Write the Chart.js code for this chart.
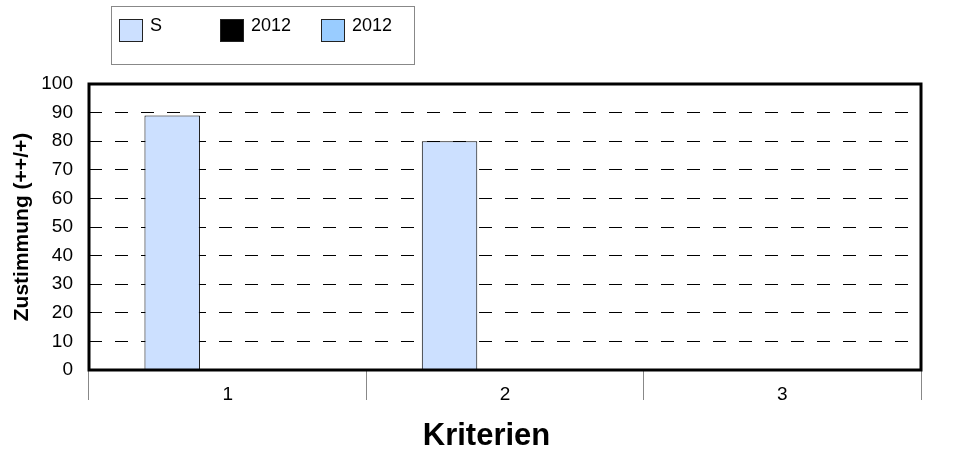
<!DOCTYPE html>
<html>
<head>
<meta charset="utf-8">
<script src="https://cdn.jsdelivr.net/npm/chart.js@4/dist/chart.umd.min.js"></script>
<style>
  html, body { margin: 0; padding: 0; background: #fff; }
  #wrap { width: 973px; height: 457px; position: relative; }
</style>
</head>
<body>
<div id="wrap"><canvas id="mycanvas"></canvas></div>
<script>
// chart data
var categories = ['1', '2', '3'];
var seriesNames = ['S', '2012', '2012'];
var valuesS = [89, 80, null];
var values2012a = [null, null, null];
var values2012b = [null, null, null];
var seriesColors = ['#cce0ff', '#000000', '#99ccff'];
var xTitle = 'Kriterien';
var yTitle = 'Zustimmung (++/+)';

Chart.defaults.font.family = '"Liberation Sans", Arial, sans-serif';
Chart.defaults.color = '#000';

// thick frame round the plot area + x title centred on the page
var framePlugin = {
    id: 'frame',
    afterDatasetsDraw: function(chart) {
        var a = chart.chartArea;
        var ctx = chart.ctx;
        ctx.save();
        ctx.strokeStyle = '#000';
        ctx.lineWidth = 3;
        ctx.strokeRect(a.left, a.top, a.right - a.left, a.bottom - a.top);
        ctx.font = 'bold 31px "Liberation Sans", Arial, sans-serif';
        ctx.fillStyle = '#000';
        ctx.textAlign = 'center';
        ctx.textBaseline = 'alphabetic';
        ctx.fillText(xTitle, chart.width / 2, 445);
        ctx.restore();
    }
};

// legend box at top-left, built from the datasets
var legendPlugin = {
    id: 'boxLegend',
    afterDraw: function(chart) {
        var ctx = chart.ctx;
        ctx.save();
        ctx.strokeStyle = '#888';
        ctx.lineWidth = 1;
        ctx.strokeRect(111.5, 6.5, 303, 58);
        ctx.font = '18px "Liberation Sans", Arial, sans-serif';
        ctx.textBaseline = 'alphabetic';
        ctx.textAlign = 'left';
        chart.data.datasets.forEach(function(ds, i) {
            var x = 119 + i * 101;
            ctx.fillStyle = ds.backgroundColor;
            ctx.fillRect(x, 19, 23, 22);
            ctx.strokeStyle = '#222';
            ctx.strokeRect(x + 0.5, 19.5, 23, 22);
            ctx.fillStyle = '#000';
            ctx.fillText(ds.label, x + 31, 31);
        });
        ctx.restore();
    }
};

var chartdata = {
    labels: categories,
    datasets: [
        { label: seriesNames[0], data: valuesS, backgroundColor: seriesColors[0], borderColor: '#000', borderWidth: 1 },
        { label: seriesNames[1], data: values2012a, backgroundColor: seriesColors[1], borderColor: '#000', borderWidth: 1 },
        { label: seriesNames[2], data: values2012b, backgroundColor: seriesColors[2], borderColor: '#000', borderWidth: 1 }
    ]
};

var ctx = document.getElementById('mycanvas');
var BarGraph = new Chart(ctx, {
    type: 'bar',
    data: chartdata,
    plugins: [framePlugin, legendPlugin],
    options: {
        responsive: true,
        maintainAspectRatio: false,
        animation: false,
        categoryPercentage: 0.6,
        barPercentage: 1.0,
        layout: { padding: { left: 0, top: 84, right: 52, bottom: 0 } },
        plugins: {
            legend: { display: false },
            tooltip: { enabled: false }
        },
        scales: {
            x: {
                offset: true,
                grid: { offset: true, drawOnChartArea: false, drawTicks: true, tickLength: 30, color: '#888', lineWidth: 1 },
                border: { display: false },
                ticks: { padding: -17, font: { size: 19 }, color: '#000' },
                afterFit: function(scale) { scale.height = 87; }
            },
            y: {
                min: 0,
                max: 100,
                ticks: { stepSize: 10, padding: 16, font: { size: 19 }, color: '#000' },
                grid: { color: '#000', lineWidth: 1, drawTicks: false },
                border: { display: false, dash: [13, 13] },
                title: { display: true, text: yTitle, font: { size: 21, weight: 'bold' }, color: '#000', padding: { top: 10, bottom: 0 } },
                afterFit: function(scale) { scale.width = 89; }
            }
        }
    }
});
</script>
</body>
</html>
